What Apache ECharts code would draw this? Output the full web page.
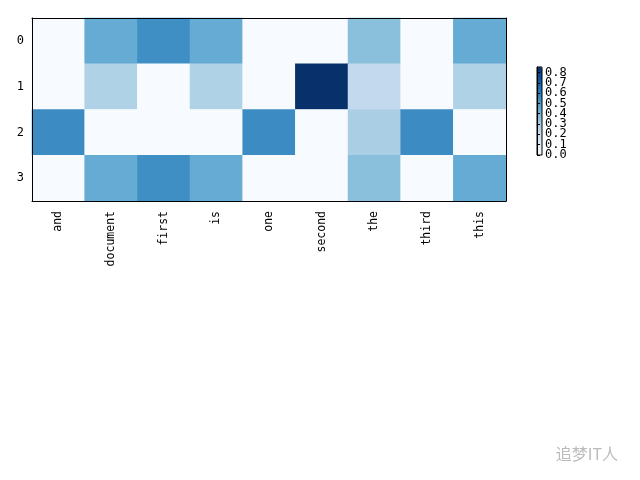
<!DOCTYPE html>
<html><head><meta charset="utf-8">
<script src="https://cdn.jsdelivr.net/npm/echarts@6/dist/echarts.min.js"></script>
<style>html,body{margin:0;padding:0;background:#fff}#c{width:640px;height:480px}</style>
</head><body><div id="c"></div>
<script>
const words = ['and','document','first','is','one','second','the','third','this'];
const docs = ['0','1','2','3'];
const row0 = [0, 0.4388, 0.5420, 0.4388, 0, 0, 0.3587, 0, 0.4388];
const row1 = [0, 0.2723, 0, 0.2723, 0, 0.8532, 0.2226, 0, 0.2723];
const row2 = [0.5528, 0, 0, 0, 0.5528, 0, 0.2885, 0.5528, 0];
const row3 = [0, 0.4388, 0.5420, 0.4388, 0, 0, 0.3587, 0, 0.4388];
const rows = [row0, row1, row2, row3];
const cbTicks = [0.0,0.1,0.2,0.3,0.4,0.5,0.6,0.7,0.8];
const vmax = 0.8532;

const data = [];
rows.forEach((r, i) => r.forEach((v, j) => data.push([j, i, v])));

const font = 'DejaVu Sans Mono';
const chart = echarts.init(document.getElementById('c'), null, {renderer: 'canvas'});
const blues = ['#f7fbff','#deebf7','#c6dbef','#9ecae1','#6baed6','#4292c6','#2171b5','#08519c','#08306b'];
const cbLabel = (pick) => ({
  color: '#000', fontFamily: font, fontSize: 12, margin: 3,
  showMinLabel: true, showMaxLabel: false, hideOverlap: false,
  formatter: v => {
    const hit = cbTicks.find(t => Math.abs(t - v) < 1e-6);
    if (hit === undefined) return '';
    return pick(hit) ? hit.toFixed(1) : '';
  }
});
chart.setOption({
  animation: false,
  backgroundColor: '#fff',
  grid: [
    {left: 32, right: 134, top: 18, bottom: 279},
    {left: 537, width: 5, top: 67, height: 88, show: true, borderColor: '#000', borderWidth: 1, backgroundColor: 'transparent', z: 10}
  ],
  xAxis: [
    {type: 'category', gridIndex: 0, data: words, position: 'bottom', z: 5,
     axisLine: {lineStyle: {color: '#000', width: 1}},
     axisTick: {alignWithLabel: true, length: 4, lineStyle: {color: '#000'}},
     axisLabel: {rotate: 90, interval: 0, color: '#000', fontFamily: font, fontSize: 11.5, margin: 10},
     splitLine: {show: false}},
    {type: 'category', gridIndex: 0, data: words, position: 'top', z: 5,
     axisLine: {lineStyle: {color: '#000', width: 1}}, axisTick: {show: false}, axisLabel: {show: false}},
    {type: 'value', gridIndex: 1, show: false, min: 0, max: 1}
  ],
  yAxis: [
    {type: 'category', gridIndex: 0, data: docs, inverse: true, position: 'left', z: 5,
     axisLine: {lineStyle: {color: '#000', width: 1}},
     axisTick: {alignWithLabel: true, length: 4, lineStyle: {color: '#000'}},
     axisLabel: {color: '#000', fontFamily: font, fontSize: 12, margin: 8},
     splitLine: {show: false}},
    {type: 'category', gridIndex: 0, data: docs, inverse: true, position: 'right', z: 5,
     axisLine: {lineStyle: {color: '#000', width: 1}}, axisTick: {show: false}, axisLabel: {show: false}},
    {type: 'value', gridIndex: 1, position: 'right', offset: 0, min: 0, max: vmax, interval: 0.1, z: 10,
     axisLine: {show: true, lineStyle: {color: '#000'}},
     axisTick: {show: true, length: 3, lineStyle: {color: '#000'}},
     axisLabel: cbLabel(t => t > 0.05),
     splitLine: {show: false}},
    {type: 'value', gridIndex: 1, position: 'right', offset: 0, min: 0, max: vmax, interval: 0.1, z: 10,
     axisLine: {show: false}, axisTick: {show: false},
     axisLabel: cbLabel(t => t < 0.05),
     splitLine: {show: false}}
  ],
  visualMap: {
    type: 'continuous', min: 0, max: vmax, calculable: false, seriesIndex: 0,
    orient: 'vertical', left: 537, top: 67, itemWidth: 5, itemHeight: 88, padding: 0,
    text: null, showLabel: false, hoverLink: false,
    inRange: {color: blues}
  },
  series: [{
    type: 'heatmap', xAxisIndex: 0, yAxisIndex: 0, data: data,
    itemStyle: {borderWidth: 0}, emphasis: {disabled: true}, z: 2
  }],
  graphic: [{
    type: 'text', right: 22, bottom: 18,
    style: {text: '追梦IT人', fill: '#bbb', font: '16px "Noto Sans CJK SC"'}
  }]
});
</script></body></html>
